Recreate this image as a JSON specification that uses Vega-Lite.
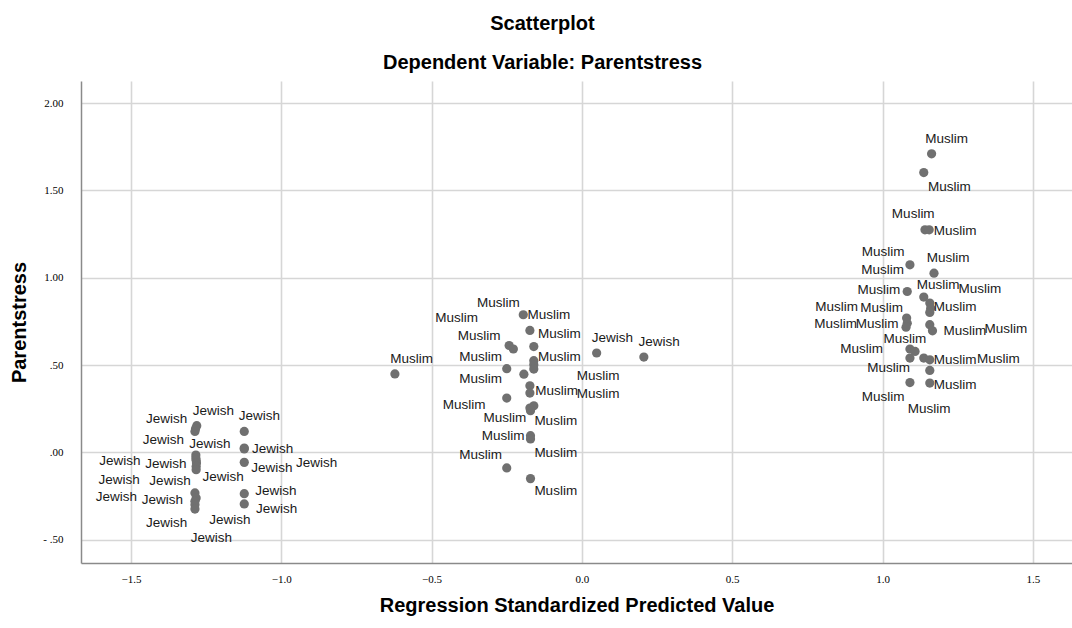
{
  "$schema": "https://vega.github.io/schema/vega-lite/v6.json",
  "autosize": {"type": "none"},
  "padding": {"left": 81, "top": 81, "right": 0, "bottom": 65},
  "width": 991,
  "height": 482,
  "background": "white",
  "title": {
    "text": "Scatterplot",
    "subtitle": "Dependent Variable: Parentstress",
    "anchor": "middle",
    "dx": -34,
    "offset": 8,
    "font": "Liberation Sans",
    "fontSize": 20,
    "fontWeight": "bold",
    "color": "#000000",
    "subtitleFont": "Liberation Sans",
    "subtitleFontSize": 20,
    "subtitleFontWeight": "bold",
    "subtitleColor": "#000000",
    "subtitlePadding": 19
  },
  "config": {
    "view": {"stroke": null},
    "axis": {
      "grid": true,
      "gridColor": "#d6d6d6",
      "gridWidth": 1.6,
      "domainColor": "#8a8a8a",
      "domainWidth": 1.5,
      "ticks": false,
      "labelFont": "Liberation Serif",
      "labelFontSize": 11,
      "labelColor": "#000000",
      "titleFont": "Liberation Sans",
      "titleFontSize": 20,
      "titleFontWeight": "bold",
      "titleColor": "#000000"
    }
  },
  "datasets": {
    "points": [
      {"pred": -1.281, "stress": 0.153, "group": "Jewish"},
      {"pred": -1.287, "stress": 0.120, "group": "Jewish"},
      {"pred": -1.285, "stress": 0.135, "group": "Jewish"},
      {"pred": -1.284, "stress": -0.015, "group": "Jewish"},
      {"pred": -1.284, "stress": -0.032, "group": "Jewish"},
      {"pred": -1.283, "stress": -0.045, "group": "Jewish"},
      {"pred": -1.282, "stress": -0.061, "group": "Jewish"},
      {"pred": -1.283, "stress": -0.080, "group": "Jewish"},
      {"pred": -1.283, "stress": -0.099, "group": "Jewish"},
      {"pred": -1.287, "stress": -0.232, "group": "Jewish"},
      {"pred": -1.283, "stress": -0.261, "group": "Jewish"},
      {"pred": -1.287, "stress": -0.280, "group": "Jewish"},
      {"pred": -1.287, "stress": -0.299, "group": "Jewish"},
      {"pred": -1.287, "stress": -0.324, "group": "Jewish"},
      {"pred": -1.123, "stress": 0.120, "group": "Jewish"},
      {"pred": -1.123, "stress": 0.025, "group": "Jewish"},
      {"pred": -1.123, "stress": 0.020, "group": "Jewish"},
      {"pred": -1.123, "stress": -0.057, "group": "Jewish"},
      {"pred": -1.123, "stress": -0.236, "group": "Jewish"},
      {"pred": -1.123, "stress": -0.295, "group": "Jewish"},
      {"pred": 0.049, "stress": 0.569, "group": "Jewish"},
      {"pred": 0.206, "stress": 0.546, "group": "Jewish"},
      {"pred": -0.622, "stress": 0.449, "group": "Muslim"},
      {"pred": -0.195, "stress": 0.788, "group": "Muslim"},
      {"pred": -0.173, "stress": 0.698, "group": "Muslim"},
      {"pred": -0.242, "stress": 0.612, "group": "Muslim"},
      {"pred": -0.228, "stress": 0.592, "group": "Muslim"},
      {"pred": -0.160, "stress": 0.606, "group": "Muslim"},
      {"pred": -0.160, "stress": 0.525, "group": "Muslim"},
      {"pred": -0.160, "stress": 0.502, "group": "Muslim"},
      {"pred": -0.160, "stress": 0.477, "group": "Muslim"},
      {"pred": -0.250, "stress": 0.479, "group": "Muslim"},
      {"pred": -0.193, "stress": 0.448, "group": "Muslim"},
      {"pred": -0.173, "stress": 0.381, "group": "Muslim"},
      {"pred": -0.173, "stress": 0.340, "group": "Muslim"},
      {"pred": -0.250, "stress": 0.311, "group": "Muslim"},
      {"pred": -0.173, "stress": 0.254, "group": "Muslim"},
      {"pred": -0.160, "stress": 0.267, "group": "Muslim"},
      {"pred": -0.171, "stress": 0.239, "group": "Muslim"},
      {"pred": -0.171, "stress": 0.096, "group": "Muslim"},
      {"pred": -0.171, "stress": 0.077, "group": "Muslim"},
      {"pred": -0.250, "stress": -0.089, "group": "Muslim"},
      {"pred": -0.171, "stress": -0.150, "group": "Muslim"},
      {"pred": 1.163, "stress": 1.709, "group": "Muslim"},
      {"pred": 1.137, "stress": 1.602, "group": "Muslim"},
      {"pred": 1.141, "stress": 1.274, "group": "Muslim"},
      {"pred": 1.155, "stress": 1.274, "group": "Muslim"},
      {"pred": 1.091, "stress": 1.074, "group": "Muslim"},
      {"pred": 1.171, "stress": 1.026, "group": "Muslim"},
      {"pred": 1.082, "stress": 0.921, "group": "Muslim"},
      {"pred": 1.137, "stress": 0.889, "group": "Muslim"},
      {"pred": 1.157, "stress": 0.855, "group": "Muslim"},
      {"pred": 1.160, "stress": 0.825, "group": "Muslim"},
      {"pred": 1.157, "stress": 0.801, "group": "Muslim"},
      {"pred": 1.080, "stress": 0.769, "group": "Muslim"},
      {"pred": 1.082, "stress": 0.740, "group": "Muslim"},
      {"pred": 1.078, "stress": 0.717, "group": "Muslim"},
      {"pred": 1.157, "stress": 0.731, "group": "Muslim"},
      {"pred": 1.166, "stress": 0.696, "group": "Muslim"},
      {"pred": 1.091, "stress": 0.592, "group": "Muslim"},
      {"pred": 1.108, "stress": 0.578, "group": "Muslim"},
      {"pred": 1.091, "stress": 0.540, "group": "Muslim"},
      {"pred": 1.137, "stress": 0.540, "group": "Muslim"},
      {"pred": 1.157, "stress": 0.530, "group": "Muslim"},
      {"pred": 1.157, "stress": 0.469, "group": "Muslim"},
      {"pred": 1.091, "stress": 0.400, "group": "Muslim"},
      {"pred": 1.157, "stress": 0.397, "group": "Muslim"}
    ],
    "labels": [
      {"lx": -1.381, "ly": 0.191, "label": "Jewish"},
      {"lx": -1.226, "ly": 0.235, "label": "Jewish"},
      {"lx": -1.073, "ly": 0.210, "label": "Jewish"},
      {"lx": -1.392, "ly": 0.073, "label": "Jewish"},
      {"lx": -1.237, "ly": 0.050, "label": "Jewish"},
      {"lx": -1.029, "ly": 0.019, "label": "Jewish"},
      {"lx": -1.537, "ly": -0.051, "label": "Jewish"},
      {"lx": -1.384, "ly": -0.065, "label": "Jewish"},
      {"lx": -1.031, "ly": -0.092, "label": "Jewish"},
      {"lx": -0.882, "ly": -0.061, "label": "Jewish"},
      {"lx": -1.539, "ly": -0.156, "label": "Jewish"},
      {"lx": -1.370, "ly": -0.166, "label": "Jewish"},
      {"lx": -1.193, "ly": -0.141, "label": "Jewish"},
      {"lx": -1.018, "ly": -0.223, "label": "Jewish"},
      {"lx": -1.548, "ly": -0.257, "label": "Jewish"},
      {"lx": -1.395, "ly": -0.271, "label": "Jewish"},
      {"lx": -1.015, "ly": -0.324, "label": "Jewish"},
      {"lx": -1.381, "ly": -0.404, "label": "Jewish"},
      {"lx": -1.171, "ly": -0.385, "label": "Jewish"},
      {"lx": -1.232, "ly": -0.490, "label": "Jewish"},
      {"lx": 0.101, "ly": 0.654, "label": "Jewish"},
      {"lx": 0.257, "ly": 0.632, "label": "Jewish"},
      {"lx": -0.278, "ly": 0.855, "label": "Muslim"},
      {"lx": -0.417, "ly": 0.769, "label": "Muslim"},
      {"lx": -0.110, "ly": 0.784, "label": "Muslim"},
      {"lx": -0.342, "ly": 0.664, "label": "Muslim"},
      {"lx": -0.075, "ly": 0.679, "label": "Muslim"},
      {"lx": -0.566, "ly": 0.534, "label": "Muslim"},
      {"lx": -0.337, "ly": 0.549, "label": "Muslim"},
      {"lx": -0.075, "ly": 0.549, "label": "Muslim"},
      {"lx": -0.337, "ly": 0.420, "label": "Muslim"},
      {"lx": 0.054, "ly": 0.439, "label": "Muslim"},
      {"lx": -0.084, "ly": 0.353, "label": "Muslim"},
      {"lx": 0.054, "ly": 0.336, "label": "Muslim"},
      {"lx": -0.392, "ly": 0.273, "label": "Muslim"},
      {"lx": -0.256, "ly": 0.197, "label": "Muslim"},
      {"lx": -0.087, "ly": 0.177, "label": "Muslim"},
      {"lx": -0.262, "ly": 0.092, "label": "Muslim"},
      {"lx": -0.337, "ly": -0.013, "label": "Muslim"},
      {"lx": -0.087, "ly": -0.003, "label": "Muslim"},
      {"lx": -0.087, "ly": -0.223, "label": "Muslim"},
      {"lx": 1.213, "ly": 1.795, "label": "Muslim"},
      {"lx": 1.222, "ly": 1.518, "label": "Muslim"},
      {"lx": 1.102, "ly": 1.366, "label": "Muslim"},
      {"lx": 1.241, "ly": 1.270, "label": "Muslim"},
      {"lx": 1.002, "ly": 1.146, "label": "Muslim"},
      {"lx": 1.218, "ly": 1.112, "label": "Muslim"},
      {"lx": 1.000, "ly": 1.045, "label": "Muslim"},
      {"lx": 1.185, "ly": 0.959, "label": "Muslim"},
      {"lx": 1.324, "ly": 0.936, "label": "Muslim"},
      {"lx": 0.988, "ly": 0.931, "label": "Muslim"},
      {"lx": 0.847, "ly": 0.835, "label": "Muslim"},
      {"lx": 0.997, "ly": 0.826, "label": "Muslim"},
      {"lx": 1.241, "ly": 0.835, "label": "Muslim"},
      {"lx": 0.844, "ly": 0.735, "label": "Muslim"},
      {"lx": 0.982, "ly": 0.735, "label": "Muslim"},
      {"lx": 1.074, "ly": 0.649, "label": "Muslim"},
      {"lx": 1.274, "ly": 0.696, "label": "Muslim"},
      {"lx": 1.410, "ly": 0.706, "label": "Muslim"},
      {"lx": 0.930, "ly": 0.593, "label": "Muslim"},
      {"lx": 1.020, "ly": 0.486, "label": "Muslim"},
      {"lx": 1.241, "ly": 0.530, "label": "Muslim"},
      {"lx": 1.385, "ly": 0.534, "label": "Muslim"},
      {"lx": 1.241, "ly": 0.387, "label": "Muslim"},
      {"lx": 1.002, "ly": 0.320, "label": "Muslim"},
      {"lx": 1.155, "ly": 0.248, "label": "Muslim"}
    ]
  },
  "layer": [
    {
      "data": {"name": "points"},
      "mark": {"type": "circle", "size": 85, "color": "#707070", "opacity": 1},
      "encoding": {
        "x": {
          "field": "pred",
          "type": "quantitative",
          "title": "Regression Standardized Predicted Value",
          "scale": {"domain": [-1.666, 1.63], "nice": false, "zero": false},
          "axis": {
            "values": [-1.5, -1.0, -0.5, 0, 0.5, 1.0, 1.5],
            "labelExpr": "format(datum.value, '.1f')",
            "labelPadding": 10,
            "titlePadding": 11
          }
        },
        "y": {
          "field": "stress",
          "type": "quantitative",
          "title": "Parentstress",
          "scale": {"domain": [-0.633, 2.126], "nice": false, "zero": false},
          "axis": {
            "values": [-0.5, 0, 0.5, 1.0, 1.5, 2.0],
            "labelExpr": "datum.value < 0 ? '- ' + replace(format(-datum.value, '.2f'), '0.', '.') : replace(format(datum.value, '.2f'), '0.', '.')",
            "labelPadding": 18,
            "titlePadding": 13
          }
        }
      }
    },
    {
      "data": {"name": "labels"},
      "mark": {"type": "text", "font": "Liberation Sans", "fontSize": 13.5, "color": "#1a1a1a", "align": "center", "baseline": "middle"},
      "encoding": {
        "x": {"field": "lx", "type": "quantitative"},
        "y": {"field": "ly", "type": "quantitative"},
        "text": {"field": "label"}
      }
    }
  ]
}
